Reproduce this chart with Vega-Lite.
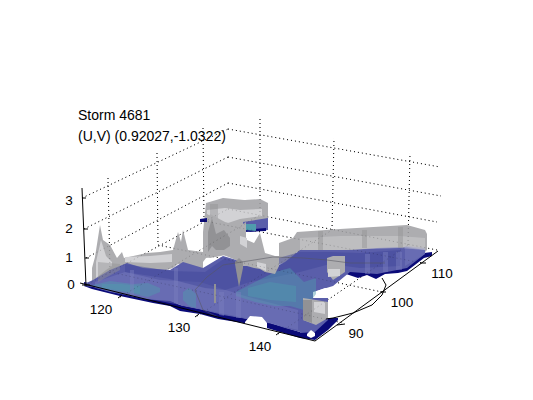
{"$schema":"https://vega.github.io/schema/vega-lite/v6.json","width":533,"height":400,"padding":0,"autosize":{"type":"fit","contains":"padding"},"background":"white","view":{"stroke":null},
"datasets":{
"grid":[
{"k":"z3a","u":82,"v":198},{"k":"z3a","u":228,"v":129},{"k":"z3b","u":228,"v":129},{"k":"z3b","u":440,"v":167},
{"k":"z2a","u":84,"v":229},{"k":"z2a","u":228,"v":157},{"k":"z2b","u":228,"v":157},{"k":"z2b","u":441,"v":196},
{"k":"z1a","u":86,"v":258},{"k":"z1a","u":228,"v":183},{"k":"z1b","u":228,"v":183},{"k":"z1b","u":437,"v":222},
{"k":"z0a","u":88,"v":284},{"k":"z0a","u":228,"v":209},{"k":"z0b","u":228,"v":209},{"k":"z0b","u":437,"v":250},
{"k":"l1","u":108,"v":178},{"k":"l1","u":110,"v":272},{"k":"l2","u":157,"v":153},{"k":"l2","u":158,"v":245},{"k":"l3","u":203,"v":128},{"k":"l3","u":204,"v":221},
{"k":"r1","u":260,"v":119},{"k":"r1","u":260,"v":215},{"k":"r2","u":334,"v":138},{"k":"r2","u":332,"v":230},{"k":"r3","u":410,"v":153},{"k":"r3","u":408,"v":245},
{"k":"f1","u":110,"v":272},{"k":"f1","u":343,"v":323},{"k":"f2","u":158,"v":245},{"k":"f2","u":382,"v":292},{"k":"f3","u":204,"v":221},{"k":"f3","u":422,"v":263},
{"k":"g1","u":260,"v":215},{"k":"g1","u":120,"v":297},{"k":"g2","u":332,"v":230},{"k":"g2","u":197,"v":316},{"k":"g3","u":408,"v":245},{"k":"g3","u":278,"v":334}
],
"surface":[
{"s":"n1","c":"navy","u":84,"v":282,"w":286},{"s":"n1","c":"navy","u":92,"v":284,"w":289},{"s":"n1","c":"navy","u":120,"v":291,"w":296},{"s":"n1","c":"navy","u":153,"v":298,"w":303},{"s":"n1","c":"navy","u":170,"v":300,"w":306},{"s":"n1","c":"navy","u":180,"v":305,"w":311},{"s":"n1","c":"navy","u":200,"v":309,"w":314},{"s":"n1","c":"navy","u":218,"v":313,"w":319},{"s":"n1","c":"navy","u":243,"v":318,"w":323},{"s":"n1","c":"navy","u":267,"v":322,"w":328},{"s":"n1","c":"navy","u":300,"v":332,"w":338},{"s":"n1","c":"navy","u":315,"v":330,"w":340},{"s":"n1","c":"navy","u":328,"v":318,"w":330},{"s":"n1","c":"navy","u":338,"v":318,"w":320},
{"s":"n2","c":"navy","u":346,"v":270,"w":274},{"s":"n2","c":"navy","u":358,"v":270,"w":278},{"s":"n2","c":"navy","u":367,"v":270,"w":275},{"s":"n2","c":"navy","u":376,"v":272,"w":279},{"s":"n2","c":"navy","u":385,"v":270,"w":274},{"s":"n2","c":"navy","u":398,"v":268,"w":273},{"s":"n2","c":"navy","u":407,"v":266,"w":271},{"s":"n2","c":"navy","u":424,"v":253,"w":258},{"s":"n2","c":"navy","u":432,"v":252,"w":256},
{"s":"gA","c":"gray","u":92,"v":268,"w":284},{"s":"gA","c":"gray","u":95,"v":257,"w":284},{"s":"gA","c":"gray","u":100,"v":225,"w":282},{"s":"gA","c":"gray","u":103,"v":240,"w":278},{"s":"gA","c":"gray","u":110,"v":245,"w":272},{"s":"gA","c":"gray","u":117,"v":258,"w":270},{"s":"gA","c":"gray","u":122,"v":252,"w":266},{"s":"gA","c":"gray","u":124,"v":258,"w":266},{"s":"gA","c":"gray","u":147,"v":253,"w":270},{"s":"gA","c":"gray","u":160,"v":252,"w":272},{"s":"gA","c":"gray","u":173,"v":250,"w":268},{"s":"gA","c":"gray","u":178,"v":232,"w":264},{"s":"gA","c":"gray","u":181,"v":242,"w":264},{"s":"gA","c":"gray","u":183,"v":230,"w":264},{"s":"gA","c":"gray","u":188,"v":250,"w":268},{"s":"gA","c":"gray","u":203,"v":252,"w":270},
{"s":"lA","c":"light","u":96,"v":262,"w":278},{"s":"lA","c":"light","u":101,"v":240,"w":274},{"s":"lA","c":"light","u":106,"v":256,"w":270},{"s":"lA","c":"light","u":112,"v":262,"w":266},
{"s":"lA2","c":"light","u":125,"v":257,"w":262},{"s":"lA2","c":"light","u":150,"v":256,"w":263},{"s":"lA2","c":"light","u":172,"v":254,"w":262},
{"s":"gB","c":"gray","u":203,"v":232,"w":262},{"s":"gB","c":"gray","u":206,"v":203,"w":258},{"s":"gB","c":"gray","u":223,"v":198,"w":255},{"s":"gB","c":"gray","u":244,"v":200,"w":262},{"s":"gB","c":"gray","u":245,"v":200,"w":226},{"s":"gB","c":"gray","u":260,"v":199,"w":220},{"s":"gB","c":"gray","u":268,"v":203,"w":224},
{"s":"lB","c":"light","u":207,"v":210,"w":214},{"s":"lB","c":"light","u":225,"v":208,"w":224},{"s":"lB","c":"light","u":240,"v":210,"w":219},{"s":"lB","c":"light","u":262,"v":209,"w":216},
{"s":"bt","c":"blue","u":243,"v":222,"w":226},{"s":"bt","c":"blue","u":250,"v":221,"w":232},{"s":"bt","c":"blue","u":268,"v":218,"w":230},
{"s":"nt","c":"navy","u":244,"v":230,"w":232},{"s":"nt","c":"navy","u":266,"v":228,"w":231},
{"s":"tt","c":"teal","u":245,"v":224,"w":230},{"s":"tt","c":"teal","u":256,"v":224,"w":231},
{"s":"nw","c":"navy","u":200,"v":219,"w":222},{"s":"nw","c":"navy","u":207,"v":218,"w":222},
{"s":"gD","c":"gray","u":279,"v":243,"w":264},{"s":"gD","c":"gray","u":293,"v":238,"w":262},{"s":"gD","c":"gray","u":297,"v":232,"w":252},{"s":"gD","c":"gray","u":340,"v":229,"w":252},{"s":"gD","c":"gray","u":407,"v":225,"w":248},{"s":"gD","c":"gray","u":425,"v":230,"w":252},{"s":"gD","c":"gray","u":427,"v":234,"w":250},
{"s":"b1","c":"blue","u":84,"v":284,"w":286},{"s":"b1","c":"blue","u":93,"v":280,"w":287},{"s":"b1","c":"blue","u":110,"v":270,"w":292},{"s":"b1","c":"blue","u":127,"v":263,"w":295},{"s":"b1","c":"blue","u":143,"v":268,"w":299},{"s":"b1","c":"blue","u":170,"v":270,"w":301},{"s":"b1","c":"blue","u":183,"v":262,"w":306},{"s":"b1","c":"blue","u":203,"v":268,"w":310},{"s":"b1","c":"blue","u":223,"v":256,"w":315},{"s":"b1","c":"blue","u":247,"v":263,"w":319},{"s":"b1","c":"blue","u":270,"v":270,"w":323},{"s":"b1","c":"blue","u":285,"v":262,"w":328},{"s":"b1","c":"blue","u":300,"v":250,"w":332},{"s":"b1","c":"blue","u":313,"v":250,"w":332},
{"s":"b2","c":"blue","u":300,"v":298,"w":333},{"s":"b2","c":"blue","u":315,"v":298,"w":332},{"s":"b2","c":"blue","u":328,"v":298,"w":320},
{"s":"b3","c":"blue","u":300,"v":250,"w":300},{"s":"b3","c":"blue","u":313,"v":250,"w":292},{"s":"b3","c":"blue","u":333,"v":250,"w":286},{"s":"b3","c":"blue","u":350,"v":250,"w":272},{"s":"b3","c":"blue","u":377,"v":248,"w":274},{"s":"b3","c":"blue","u":407,"v":247,"w":268},{"s":"b3","c":"blue","u":425,"v":250,"w":254}
],
"wash":[
{"s":"lb1","c":"purple","u":95,"v":282,"w":288},{"s":"lb1","c":"purple","u":125,"v":272,"w":295},{"s":"lb1","c":"purple","u":160,"v":280,"w":301},{"s":"lb1","c":"purple","u":200,"v":282,"w":309},{"s":"lb1","c":"purple","u":245,"v":296,"w":318},{"s":"lb1","c":"purple","u":298,"v":310,"w":330},
{"s":"dk1","c":"deep","u":125,"v":264,"w":272},{"s":"dk1","c":"deep","u":170,"v":271,"w":279},{"s":"dk1","c":"deep","u":205,"v":272,"w":288},{"s":"dk1","c":"deep","u":225,"v":258,"w":290},{"s":"dk1","c":"deep","u":250,"v":266,"w":282},{"s":"dk1","c":"deep","u":300,"v":252,"w":272},{"s":"dk1","c":"deep","u":330,"v":252,"w":264},{"s":"dk1","c":"deep","u":360,"v":253,"w":268},{"s":"dk1","c":"deep","u":400,"v":250,"w":266},
{"s":"t1","c":"teal","u":93,"v":285,"w":286},{"s":"t1","c":"teal","u":110,"v":281,"w":290},{"s":"t1","c":"teal","u":133,"v":284,"w":294},{"s":"t1","c":"teal","u":148,"v":283,"w":297},{"s":"t1","c":"teal","u":160,"v":288,"w":292},
{"s":"t1b","c":"teal","u":102,"v":284,"w":288},{"s":"t1b","c":"teal","u":122,"v":284,"w":291},{"s":"t1b","c":"teal","u":140,"v":286,"w":294},
{"s":"t2","c":"teal","u":183,"v":292,"w":300},{"s":"t2","c":"teal","u":189,"v":288,"w":306},{"s":"t2","c":"teal","u":196,"v":294,"w":308},
{"s":"t3","c":"teal","u":236,"v":292,"w":296},{"s":"t3","c":"teal","u":255,"v":282,"w":302},{"s":"t3","c":"teal","u":275,"v":272,"w":306},{"s":"t3","c":"teal","u":290,"v":268,"w":306},{"s":"t3","c":"teal","u":304,"v":282,"w":310},{"s":"t3","c":"teal","u":316,"v":278,"w":294},
{"s":"t4","c":"teal","u":248,"v":288,"w":296},{"s":"t4","c":"teal","u":270,"v":282,"w":300},{"s":"t4","c":"teal","u":296,"v":286,"w":302},
{"s":"st0","c":"purple","u":130,"v":270,"w":296},{"s":"st0","c":"purple","u":134,"v":270,"w":297},
{"s":"st4","c":"purple","u":174,"v":268,"w":303},{"s":"st4","c":"purple","u":178,"v":268,"w":304},
{"s":"st5","c":"purple","u":219,"v":292,"w":315},{"s":"st5","c":"purple","u":224,"v":292,"w":316},
{"s":"st6","c":"purple","u":236,"v":292,"w":318},{"s":"st6","c":"purple","u":241,"v":292,"w":318},
{"s":"st1","c":"purple","u":365,"v":254,"w":274},{"s":"st1","c":"purple","u":370,"v":254,"w":274},
{"s":"st2","c":"purple","u":383,"v":252,"w":272},{"s":"st2","c":"purple","u":388,"v":252,"w":272},
{"s":"st3","c":"purple","u":396,"v":252,"w":270},{"s":"st3","c":"purple","u":402,"v":252,"w":270},
{"s":"lw","c":"purple","u":405,"v":246,"w":266},{"s":"lw","c":"purple","u":425,"v":248,"w":254},
{"s":"gs1","c":"light","u":300,"v":238,"w":250},{"s":"gs1","c":"light","u":340,"v":236,"w":250},{"s":"gs1","c":"light","u":400,"v":236,"w":248},{"s":"gs1","c":"light","u":425,"v":238,"w":250},
{"s":"gs2","c":"dark","u":318,"v":231,"w":250},{"s":"gs2","c":"dark","u":323,"v":231,"w":250},
{"s":"gs3","c":"dark","u":362,"v":230,"w":248},{"s":"gs3","c":"dark","u":367,"v":230,"w":248},
{"s":"gs4","c":"dark","u":398,"v":227,"w":248},{"s":"gs4","c":"dark","u":403,"v":227,"w":248},
{"s":"gs5","c":"dark","u":210,"v":204,"w":230},{"s":"gs5","c":"dark","u":218,"v":204,"w":230},
{"s":"gs6","c":"dark","u":98,"v":262,"w":282},{"s":"gs6","c":"dark","u":120,"v":264,"w":270}
],
"front":[
{"s":"gB2","c":"gray","u":204,"v":236,"w":256},{"s":"gB2","c":"gray","u":210,"v":214,"w":258},{"s":"gB2","c":"gray","u":225,"v":222,"w":255},{"s":"gB2","c":"gray","u":240,"v":226,"w":262},{"s":"gB2","c":"gray","u":246,"v":222,"w":264},
{"s":"dB","c":"dark","u":208,"v":232,"w":252},{"s":"dB","c":"dark","u":212,"v":218,"w":246},{"s":"dB","c":"dark","u":216,"v":234,"w":250},{"s":"dB","c":"dark","u":224,"v":230,"w":250},{"s":"dB","c":"dark","u":230,"v":238,"w":246},
{"s":"wd","c":"dark","u":235,"v":262,"w":264},{"s":"wd","c":"dark","u":239,"v":258,"w":287},{"s":"wd","c":"dark","u":243,"v":262,"w":268},
{"s":"gC","c":"gray","u":243,"v":240,"w":266},{"s":"gC","c":"gray","u":247,"v":240,"w":266},{"s":"gC","c":"gray","u":254,"v":243,"w":268},{"s":"gC","c":"gray","u":260,"v":233,"w":269},{"s":"gC","c":"gray","u":265,"v":253,"w":272},{"s":"gC","c":"gray","u":275,"v":256,"w":274},{"s":"gC","c":"gray","u":279,"v":256,"w":266},
{"s":"lC","c":"light","u":240,"v":236,"w":244},{"s":"lC","c":"light","u":247,"v":238,"w":248},
{"s":"lC2","c":"light","u":257,"v":262,"w":267},{"s":"lC2","c":"light","u":266,"v":264,"w":271},
{"s":"gE","c":"gray","u":303,"v":298,"w":320},{"s":"gE","c":"gray","u":316,"v":300,"w":325},{"s":"gE","c":"gray","u":328,"v":302,"w":318},
{"s":"dE","c":"dark","u":303,"v":300,"w":320},{"s":"dE","c":"dark","u":312,"v":300,"w":323},
{"s":"lF","c":"light","u":314,"v":302,"w":312},{"s":"lF","c":"light","u":325,"v":302,"w":314},
{"s":"gF","c":"gray","u":327,"v":258,"w":272},{"s":"gF","c":"gray","u":333,"v":256,"w":280},{"s":"gF","c":"gray","u":345,"v":256,"w":272},
{"s":"lG","c":"light","u":328,"v":269,"w":277},{"s":"lG","c":"light","u":340,"v":269,"w":276},
{"s":"pin","c":"dark","u":214,"v":284,"w":303},{"s":"pin","c":"dark","u":216,"v":284,"w":303},
{"s":"x1","c":"white","u":245,"v":322,"w":325},{"s":"x1","c":"white","u":250,"v":316,"w":326},{"s":"x1","c":"white","u":262,"v":317,"w":328},{"s":"x1","c":"white","u":267,"v":323,"w":329},
{"s":"x2","c":"white","u":307,"v":334,"w":336},{"s":"x2","c":"white","u":311,"v":330,"w":338},{"s":"x2","c":"white","u":315,"v":333,"w":336},
{"s":"x3","c":"white","u":317,"v":291,"w":296},{"s":"x3","c":"white","u":325,"v":288,"w":298},{"s":"x3","c":"white","u":334,"v":288,"w":294}
],
"ink":[
{"k":"front","i":0,"u":80,"v":283},{"k":"front","i":1,"u":315,"v":341},{"k":"right","i":0,"u":315,"v":341},{"k":"right","i":1,"u":438,"v":251},
{"k":"zaxis","i":0,"u":82,"v":188},{"k":"zaxis","i":1,"u":86,"v":286},
{"k":"zt3","i":0,"u":82,"v":198},{"k":"zt3","i":1,"u":86,"v":198},{"k":"zt2","i":0,"u":84,"v":229},{"k":"zt2","i":1,"u":88,"v":229},{"k":"zt1","i":0,"u":85,"v":258},{"k":"zt1","i":1,"u":89,"v":258},{"k":"zt0","i":0,"u":82,"v":285},{"k":"zt0","i":1,"u":90,"v":285},
{"k":"t120","i":0,"u":118,"v":298},{"k":"t120","i":1,"u":122,"v":295},{"k":"t130","i":0,"u":195,"v":317},{"k":"t130","i":1,"u":199,"v":314},{"k":"t140","i":0,"u":276,"v":335},{"k":"t140","i":1,"u":280,"v":332},
{"k":"t90","i":0,"u":337,"v":325},{"k":"t90","i":1,"u":345,"v":324},{"k":"t100","i":0,"u":380,"v":292},{"k":"t100","i":1,"u":386,"v":292},{"k":"t110","i":0,"u":420,"v":263},{"k":"t110","i":1,"u":426,"v":263},
{"k":"coast","i":0,"u":382,"v":278},{"k":"coast","i":1,"u":386,"v":285},{"k":"coast","i":2,"u":382,"v":295},{"k":"coast","i":3,"u":372,"v":305},{"k":"coast","i":4,"u":353,"v":313},{"k":"coast","i":5,"u":333,"v":318},{"k":"coast","i":6,"u":326,"v":319}
],
"coast":[
{"i":0,"u":218,"v":317},{"i":1,"u":203,"v":310},{"i":2,"u":195,"v":290},{"i":3,"u":207,"v":277},{"i":4,"u":223,"v":265},{"i":5,"u":273,"v":257},{"i":6,"u":303,"v":258},{"i":7,"u":327,"v":260},{"i":8,"u":350,"v":263},{"i":9,"u":385,"v":263}
],
"labels":[
{"t":"120","u":101,"v":310},{"t":"130","u":179,"v":328},{"t":"140","u":260,"v":347},{"t":"90","u":356,"v":334},{"t":"100","u":402,"v":303},{"t":"110","u":442,"v":274},{"t":"3","u":69,"v":201},{"t":"2","u":69,"v":229},{"t":"1","u":69,"v":258},{"t":"0","u":71,"v":285}
],
"title":[{"t":"Storm 4681","u":78,"v":116},{"t":"(U,V) (0.92027,-1.0322)","u":78,"v":137}]
},
"resolve":{"scale":{"color":"shared"}},
"encoding":{"x":{"field":"u","type":"quantitative","scale":{"domain":[0,533],"nice":false,"zero":false},"axis":null},"y":{"field":"v","type":"quantitative","scale":{"domain":[400,0],"nice":false,"zero":false},"axis":null}},
"layer":[
{"data":{"name":"grid"},"mark":{"type":"line","color":"#000000","strokeWidth":1,"strokeDash":[1,3]},"encoding":{"detail":{"field":"k"}}},
{"data":{"name":"surface"},"mark":{"type":"area"},"encoding":{"y2":{"field":"w"},"detail":{"field":"s"},"color":{"field":"c","type":"nominal","legend":null,"scale":{"domain":["navy","gray","light","dark","blue","purple","deep","teal","white"],"range":["#0a0a78","#adadb0","#d2d2d5","#929295","#5a5eaa","#7b7fbe","#3f4598","#4f9cad","#ffffff"]}}}},
{"data":{"name":"wash"},"mark":{"type":"area","opacity":0.45},"encoding":{"y2":{"field":"w"},"detail":{"field":"s"},"color":{"field":"c","type":"nominal","legend":null}}},
{"data":{"name":"front"},"mark":{"type":"area"},"encoding":{"y2":{"field":"w"},"detail":{"field":"s"},"color":{"field":"c","type":"nominal","legend":null}}},
{"data":{"name":"grid"},"mark":{"type":"line","color":"#000000","opacity":0.22,"strokeWidth":1,"strokeDash":[1,3]},"encoding":{"detail":{"field":"k"}}},
{"data":{"name":"coast"},"mark":{"type":"line","color":"#55555f","opacity":0.55,"strokeWidth":1},"encoding":{"order":{"field":"i"}}},
{"data":{"name":"ink"},"mark":{"type":"line","color":"#000000","strokeWidth":1},"encoding":{"detail":{"field":"k"},"order":{"field":"i"}}},
{"data":{"name":"labels"},"mark":{"type":"text","font":"Liberation Sans","fontSize":13.5,"align":"center","baseline":"middle","color":"#000000"},"encoding":{"text":{"field":"t"}}},
{"data":{"name":"title"},"mark":{"type":"text","font":"Liberation Sans","fontSize":14,"align":"left","baseline":"middle","color":"#000000"},"encoding":{"text":{"field":"t"}}}
]}
